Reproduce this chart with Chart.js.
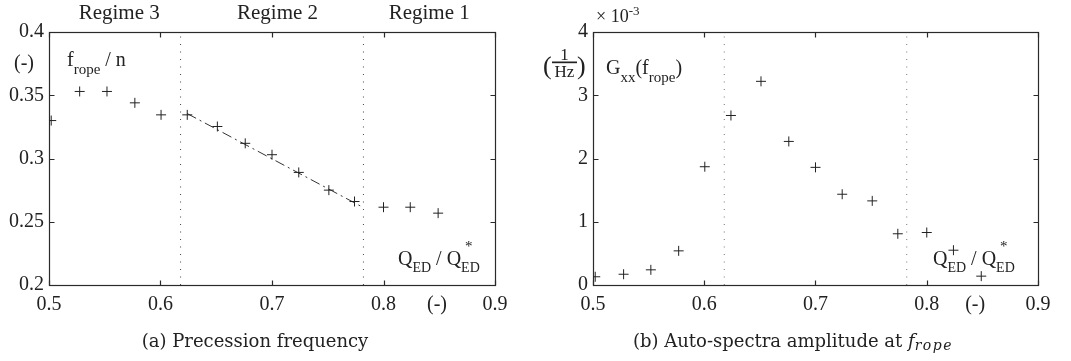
<!DOCTYPE html>
<html>
<head>
<meta charset="utf-8">
<script src="https://cdn.jsdelivr.net/npm/chart.js@4.4.1/dist/chart.umd.min.js"></script>
<style>
  html, body { margin: 0; padding: 0; background: #fff; }
  #wrap { position: relative; width: 1071px; height: 361px; overflow: hidden; }
  canvas { position: absolute; top: 0; }
</style>
</head>
<body>
<div id="wrap">
  <canvas id="chartA" width="535" height="361" style="left:0"></canvas>
  <canvas id="chartB" width="536" height="361" style="left:535px"></canvas>
</div>
<script>
// Operating points: normalised discharge Q_ED / Q*_ED
const flowRatio = [0.502, 0.5275, 0.552, 0.577, 0.6005, 0.624, 0.651, 0.676, 0.700, 0.724, 0.751, 0.774, 0.800, 0.824, 0.849];
// Precession frequency of the vortex rope, f_rope / n
const ropeFreq = [0.330, 0.353, 0.353, 0.344, 0.3345, 0.3345, 0.3253, 0.312, 0.303, 0.289, 0.275, 0.266, 0.2615, 0.2615, 0.2568];
// Auto-spectra amplitude G_xx(f_rope), in units of 1e-3 1/Hz
const ropeAmp = [0.13, 0.17, 0.24, 0.54, 1.87, 2.68, 3.22, 2.27, 1.86, 1.435, 1.33, 0.81, 0.83, 0.55, 0.14];

// Regime boundaries and labels
const regimeBounds = [0.618, 0.782];
const regimeNames = ['Regime 3', 'Regime 2', 'Regime 1'];
const regimeLabelX = [0.563, 0.705, 0.841];

// Linear trend through regime 2
const trendX = [0.624, 0.782];
const trendY = [0.3355, 0.2612];

// Axis ticks
const xTicks = [0.5, 0.6, 0.7, 0.8, 0.9];
const xTickLabels = ['0.5', '0.6', '0.7', '0.8', '0.9'];
const yTicksA = [0.2, 0.25, 0.3, 0.35, 0.4];
const yTickLabelsA = ['0.2', '0.25', '0.3', '0.35', '0.4'];
const yTicksB = [0, 1, 2, 3, 4];
const yTickLabelsB = ['0', '1', '2', '3', '4'];

const SERIF = "'Liberation Serif', 'Times New Roman', serif";
const CAPTION = "'DejaVu Serif', serif";
const INK = '#222';

// Draws a run of text pieces (sub/superscripts via dy), optionally centred.
function drawRich(ctx, x, y, parts, align) {
  const fontOf = p => `${p.italic ? 'italic ' : ''}${p.size}px ${p.family || SERIF}`;
  const widths = parts.map(p => {
    ctx.font = fontOf(p);
    ctx.letterSpacing = (p.ls || 0) + 'px';
    return ctx.measureText(p.t).width;
  });
  let total = 0;
  parts.forEach((p, i) => { if (!p.stay) total += widths[i]; });
  let cx = align === 'center' ? x - total / 2 : x;
  ctx.textAlign = 'left';
  ctx.textBaseline = 'alphabetic';
  parts.forEach((p, i) => {
    ctx.font = fontOf(p);
    ctx.letterSpacing = (p.ls || 0) + 'px';
    ctx.fillText(p.t, cx + (p.dx || 0), y + (p.dy || 0));
    if (!p.stay) cx += widths[i];
  });
  ctx.letterSpacing = '0px';
}

// Box frame with inward tick marks on all four sides
const framePlugin = {
  id: 'frame',
  beforeDatasetsDraw(chart) {
    const { ctx, chartArea: a, scales } = chart;
    ctx.save();
    ctx.strokeStyle = '#2a2a2a';
    ctx.lineWidth = 1.2;
    const L = Math.round(a.left) + 0.5, R = Math.round(a.right) + 0.5;
    const T = Math.round(a.top) + 0.5, B = Math.round(a.bottom) + 0.5;
    ctx.strokeRect(L, T, R - L, B - T);
    ctx.beginPath();
    scales.x.ticks.forEach(t => {
      const px = Math.round(scales.x.getPixelForValue(t.value)) + 0.5;
      ctx.moveTo(px, B); ctx.lineTo(px, B - 5);
      ctx.moveTo(px, T); ctx.lineTo(px, T + 5);
    });
    scales.y.ticks.forEach(t => {
      const py = Math.round(scales.y.getPixelForValue(t.value)) + 0.5;
      ctx.moveTo(L, py); ctx.lineTo(L + 5, py);
      ctx.moveTo(R, py); ctx.lineTo(R - 5, py);
    });
    ctx.stroke();
    ctx.restore();
  }
};

function xScale(height) {
  return {
    type: 'linear', min: 0.5, max: 0.9,
    afterBuildTicks: s => { s.ticks = xTicks.map(v => ({ value: v })); },
    afterFit: s => { s.height = height; },
    ticks: {
      callback: (v, i) => xTickLabels[i],
      font: { family: SERIF, size: 20 }, color: INK, padding: 8,
      maxRotation: 0, autoSkip: false
    },
    grid: { display: false, drawTicks: false },
    border: { display: false }
  };
}

function yScale(min, max, ticks, labels, width) {
  return {
    type: 'linear', min, max,
    afterBuildTicks: s => { s.ticks = ticks.map(v => ({ value: v })); },
    afterFit: s => { s.width = width; },
    ticks: {
      callback: (v, i) => labels[i],
      font: { family: SERIF, size: 20 }, color: INK, padding: 5, autoSkip: false
    },
    grid: { display: false, drawTicks: false },
    border: { display: false }
  };
}

function pointSet(ys) {
  return {
    data: flowRatio.map((x, i) => ({ x, y: ys[i] })),
    pointStyle: 'cross', pointRadius: 5, pointBorderWidth: 1,
    borderColor: INK, pointBorderColor: INK, showLine: false, order: 0
  };
}

function boundSets(y0, y1, color) {
  return regimeBounds.map(b => ({
    data: [{ x: b, y: y0 }, { x: b, y: y1 }],
    showLine: true, pointRadius: 0, borderWidth: 1,
    borderColor: color, borderDash: [1, 6.5], order: 2
  }));
}

const baseOptions = {
  responsive: false, animation: false, events: [],
  plugins: { legend: { display: false }, tooltip: { enabled: false } }
};

// (a) Precession frequency
new Chart(document.getElementById('chartA'), {
  type: 'scatter',
  data: {
    datasets: [
      pointSet(ropeFreq),
      {
        data: trendX.map((x, i) => ({ x, y: trendY[i] })),
        showLine: true, pointRadius: 0, borderWidth: 1,
        borderColor: '#333', borderDash: [10, 4, 2, 4], order: 1
      },
      ...boundSets(0.2, 0.4, '#444')
    ]
  },
  options: {
    ...baseOptions,
    layout: { padding: { left: 0, right: 40, top: 32, bottom: 0 } },
    scales: { x: xScale(76), y: yScale(0.2, 0.4, yTicksA, yTickLabelsA, 49) }
  },
  plugins: [framePlugin, {
    id: 'notesA',
    afterDraw(chart) {
      const { ctx, scales } = chart;
      ctx.save();
      ctx.fillStyle = INK;
      regimeNames.forEach((n, i) => {
        drawRich(ctx, scales.x.getPixelForValue(regimeLabelX[i]), 19, [{ t: n, size: 21 }], 'center');
      });
      drawRich(ctx, 14, 69, [{ t: '(-)', size: 20 }]);
      drawRich(ctx, 67, 66, [
        { t: 'f', size: 20 }, { t: 'rope', size: 15, dy: 8 }, { t: ' / n', size: 20 }
      ]);
      drawRich(ctx, 398, 265, [
        { t: 'Q', size: 20 }, { t: 'ED', size: 14, dy: 7 }, { t: ' / ', size: 20 },
        { t: 'Q', size: 20 }, { t: '*', size: 15, dy: -14, dx: 4, stay: true },
        { t: 'ED', size: 14, dy: 7 }
      ]);
      drawRich(ctx, scales.x.getPixelForValue(0.848), 310, [{ t: '(-)', size: 20 }], 'center');
      drawRich(ctx, 255, 347, [{ t: '(a) Precession frequency', size: 18, family: CAPTION }], 'center');
      ctx.restore();
    }
  }]
});

// (b) Auto-spectra amplitude at f_rope
new Chart(document.getElementById('chartB'), {
  type: 'scatter',
  data: { datasets: [pointSet(ropeAmp), ...boundSets(0, 4, '#777')] },
  options: {
    ...baseOptions,
    layout: { padding: { left: 0, right: 33, top: 32, bottom: 0 } },
    scales: { x: xScale(76), y: yScale(0, 4, yTicksB, yTickLabelsB, 58) }
  },
  plugins: [framePlugin, {
    id: 'notesB',
    afterDraw(chart) {
      const { ctx, scales } = chart;
      ctx.save();
      ctx.fillStyle = INK;
      // exponent of the y axis
      drawRich(ctx, 61, 22, [
        { t: '\u00d7 10', size: 18 }, { t: '-3', size: 13, dy: -7 }
      ]);
      // unit 1/Hz as a stacked fraction
      drawRich(ctx, 8, 74, [{ t: '(', size: 26 }]);
      drawRich(ctx, 29.5, 60, [{ t: '1', size: 17 }], 'center');
      ctx.fillRect(17, 61.5, 25, 1.7);
      drawRich(ctx, 29.5, 77, [{ t: 'Hz', size: 17 }], 'center');
      drawRich(ctx, 42, 74, [{ t: ')', size: 26 }]);
      drawRich(ctx, 71, 74, [
        { t: 'G', size: 20 }, { t: 'xx', size: 15, dy: 8 }, { t: '(f', size: 20 },
        { t: 'rope', size: 15, dy: 8 }, { t: ')', size: 20 }
      ]);
      drawRich(ctx, 398, 265, [
        { t: 'Q', size: 20 }, { t: 'ED', size: 14, dy: 7 }, { t: ' / ', size: 20 },
        { t: 'Q', size: 20 }, { t: '*', size: 15, dy: -14, dx: 4, stay: true },
        { t: 'ED', size: 14, dy: 7 }
      ]);
      drawRich(ctx, scales.x.getPixelForValue(0.8435), 310, [{ t: '(-)', size: 20 }], 'center');
      drawRich(ctx, 258, 347, [
        { t: '(b) Auto-spectra amplitude at ', size: 18, family: CAPTION },
        { t: 'f', size: 18, family: CAPTION, italic: true },
        { t: 'rope', size: 14, family: CAPTION, italic: true, dy: 3, ls: 1.5 }
      ], 'center');
      ctx.restore();
    }
  }]
});
</script>
</body>
</html>
